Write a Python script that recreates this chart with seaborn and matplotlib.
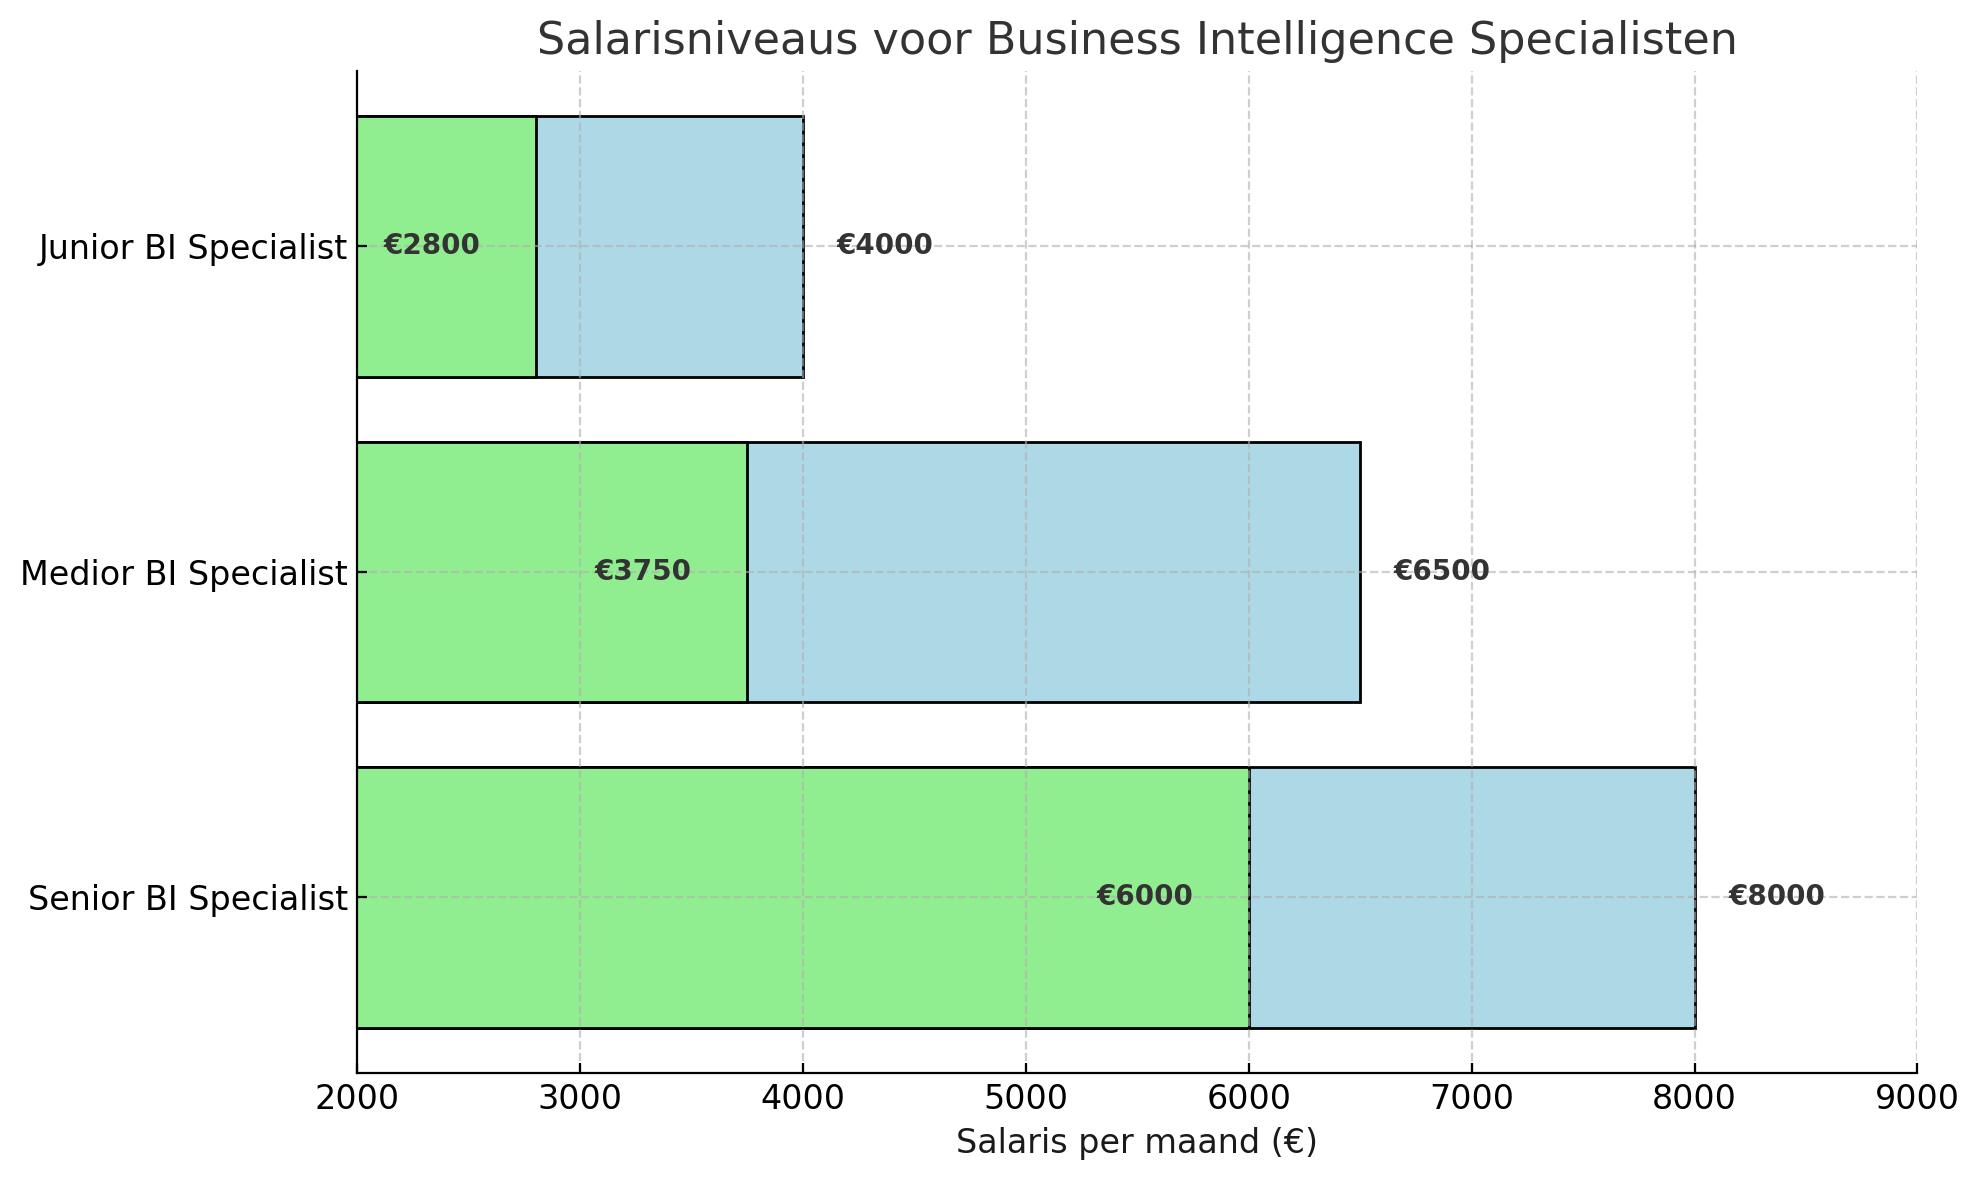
import matplotlib
matplotlib.use("Agg")
import matplotlib.pyplot as plt
import seaborn as sns
import pandas as pd

roles = ["Junior BI Specialist", "Medior BI Specialist", "Senior BI Specialist"]
min_salary = [2800, 3750, 6000]
max_salary = [4000, 6500, 8000]
x_ticks = [2000, 3000, 4000, 5000, 6000, 7000, 8000, 9000]

df = pd.DataFrame({"role": roles, "min": min_salary, "max": max_salary})

plt.rcParams["axes.axisbelow"] = "line"
plt.rcParams["font.family"] = ["DejaVu Sans"]

fig, ax = plt.subplots(figsize=(10, 6), dpi=200)
ax.set_axisbelow("line")

sns.barplot(data=df, x="max", y="role", color="#ADD8E6", edgecolor="black",
            linewidth=1, saturation=1, width=0.8, ax=ax, orient="h")
sns.barplot(data=df, x="min", y="role", color="#90EE90", edgecolor="black",
            linewidth=1, saturation=1, width=0.8, ax=ax, orient="h")

for i, (lo, hi) in enumerate(zip(min_salary, max_salary)):
    ax.text(lo - 250, i, f"€{lo}", ha="right", va="center", fontsize=10,
            fontweight="bold", color="#333333")
    ax.text(hi + 150, i, f"€{hi}", ha="left", va="center", fontsize=10,
            fontweight="bold", color="#333333")

ax.set_xlim(2000, 9000)
ax.set_ylim(2.54, -0.54)
ax.set_xticks(x_ticks)
ax.tick_params(axis="both", labelsize=12, direction="in")
ax.grid(True, linestyle="--", color="#b0b0b0", alpha=0.6, linewidth=0.8)
ax.set_title("Salarisniveaus voor Business Intelligence Specialisten",
             fontsize=16, color="#333333")
ax.set_xlabel("Salaris per maand (€)", fontsize=12, color="#1a1a1a")
ax.set_ylabel("")
for s in ["top", "right"]:
    ax.spines[s].set_visible(False)

fig.tight_layout()
fig.savefig("out.png", dpi=200, bbox_inches="tight")
